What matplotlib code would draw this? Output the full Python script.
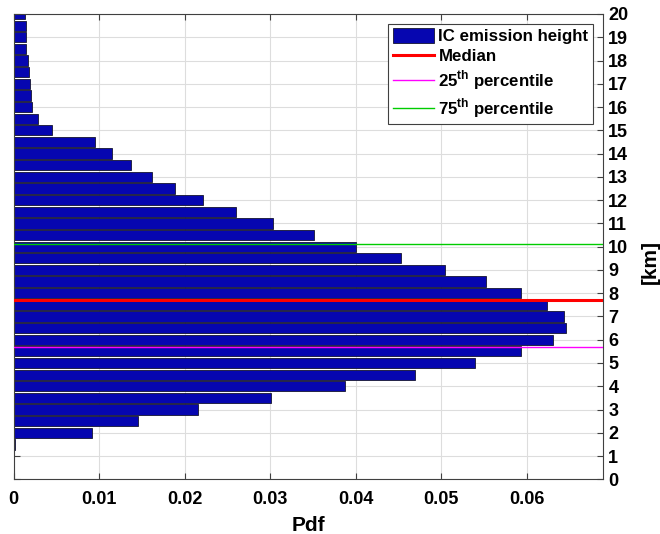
import numpy as np
import matplotlib.pyplot as plt

# bin centres [km] and pdf values
heights = [1.5, 2.0, 2.5, 3.0, 3.5, 4.0, 4.5, 5.0, 5.5, 6.0, 6.5, 7.0, 7.5, 8.0,
           8.5, 9.0, 9.5, 10.0, 10.5, 11.0, 11.5, 12.0, 12.5, 13.0, 13.5, 14.0,
           14.5, 15.0, 15.5, 16.0, 16.5, 17.0, 17.5, 18.0, 18.5, 19.0, 19.5, 20.0]
pdf = [0.0002, 0.0092, 0.0146, 0.0216, 0.0301, 0.0388, 0.0469, 0.0540, 0.0594,
       0.0631, 0.0646, 0.0644, 0.0624, 0.0593, 0.0552, 0.0504, 0.0453, 0.0400,
       0.0351, 0.0303, 0.0260, 0.0222, 0.0189, 0.0162, 0.0137, 0.0115, 0.0095,
       0.0045, 0.0029, 0.0022, 0.0021, 0.0019, 0.0018, 0.0017, 0.0015, 0.0015,
       0.0014, 0.0013]
median_km = 7.71
p25_km = 5.70
p75_km = 10.10

plt.rcParams["font.family"] = ["Liberation Sans", "DejaVu Sans"]
plt.rcParams["font.weight"] = "bold"
plt.rcParams["mathtext.fontset"] = "custom"
plt.rcParams["mathtext.bf"] = "Liberation Sans:bold"
plt.rcParams["mathtext.rm"] = "Liberation Sans:bold"

fig = plt.figure(figsize=(6.6, 5.34), dpi=100)
ax = fig.add_axes([0.0205, 0.1024, 0.8927, 0.8714])

bars = ax.barh(heights, pdf, height=0.44, color="#0606B0", edgecolor="#151530",
               linewidth=0.6, label="IC emission height", zorder=2)
l1 = ax.axhline(median_km, color="#ff0000", linewidth=2.2, label="Median", zorder=3)
l2 = ax.axhline(p25_km, color="#ff00ff", linewidth=1.0,
                label=r"25$^{\mathbf{th}}$ percentile", zorder=3)
l3 = ax.axhline(p75_km, color="#00cc00", linewidth=1.0,
                label=r"75$^{\mathbf{th}}$ percentile", zorder=3)

ax.set_xlim(0, 0.0689)
ax.set_ylim(0, 20)
ax.set_xticks([0, 0.01, 0.02, 0.03, 0.04, 0.05, 0.06])
ax.set_xticklabels(["0", "0.01", "0.02", "0.03", "0.04", "0.05", "0.06"])
ax.set_yticks(range(0, 21))
ax.yaxis.tick_right()
ax.tick_params(axis="both", direction="in", length=4.5, width=0.8,
               labelsize=13, top=True, left=True, right=True, colors="#404040",
               labelcolor="black")
ax.tick_params(axis="x", pad=8.5)
ax.tick_params(axis="y", pad=4)
ax.grid(True, color="#dddddd", linewidth=0.8, zorder=0)
ax.set_axisbelow(True)
for s in ax.spines.values():
    s.set_color("#404040")
    s.set_linewidth(0.8)

ax.set_xlabel("Pdf", fontsize=15, fontweight="bold", labelpad=6)
fig.text(0.985, 0.51, "[km]", rotation=90, fontsize=15, fontweight="bold",
         ha="center", va="center")

leg = ax.legend([bars, l1, l2, l3],
                ["IC emission height", "Median",
                 r"25$^{\mathbf{th}}$ percentile", r"75$^{\mathbf{th}}$ percentile"],
                loc="upper right", bbox_to_anchor=(0.983, 0.978), borderaxespad=0,
                fontsize=12.2, handlelength=2.45, handleheight=0.9, borderpad=0.25,
                labelspacing=0.24, fancybox=False, framealpha=1,
                edgecolor="#404040", handletextpad=0.25)
leg.get_frame().set_linewidth(0.8)

fig.savefig("out.png", dpi=100)
